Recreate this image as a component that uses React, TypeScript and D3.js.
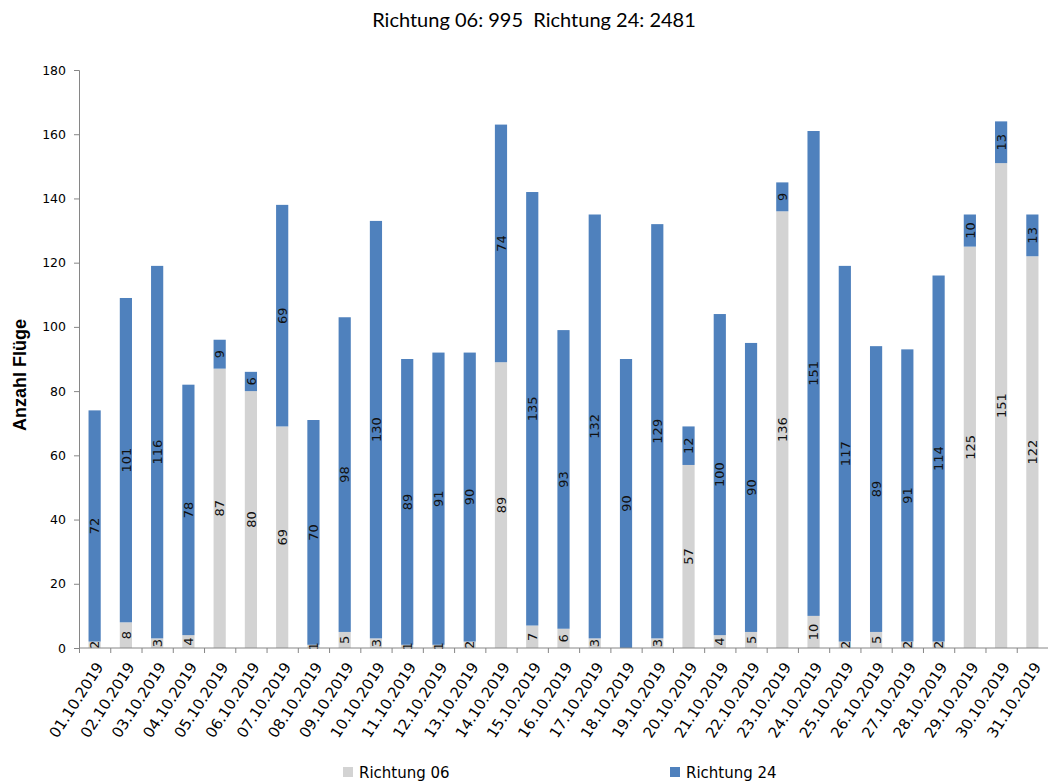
import { useEffect, useRef } from 'react'
import * as d3 from 'd3'

const dates = [
  '01.10.2019', '02.10.2019', '03.10.2019', '04.10.2019', '05.10.2019', '06.10.2019',
  '07.10.2019', '08.10.2019', '09.10.2019', '10.10.2019', '11.10.2019', '12.10.2019',
  '13.10.2019', '14.10.2019', '15.10.2019', '16.10.2019', '17.10.2019', '18.10.2019',
  '19.10.2019', '20.10.2019', '21.10.2019', '22.10.2019', '23.10.2019', '24.10.2019',
  '25.10.2019', '26.10.2019', '27.10.2019', '28.10.2019', '29.10.2019', '30.10.2019',
  '31.10.2019',
]
const richtung06 = [2, 8, 3, 4, 87, 80, 69, 1, 5, 3, 1, 1, 2, 89, 7, 6, 3, 0, 3, 57, 4, 5, 136, 10, 2, 5, 2, 2, 125, 151, 122]
const richtung24 = [72, 101, 116, 78, 9, 6, 69, 70, 98, 130, 89, 91, 90, 74, 135, 93, 132, 90, 129, 12, 100, 90, 9, 151, 117, 89, 91, 114, 10, 13, 13]
const yTicks = [0, 20, 40, 60, 80, 100, 120, 140, 160, 180]

const seriesNames = ['Richtung 06', 'Richtung 24']
const colors = ['#D3D3D3', '#4F81BD']

export default function App() {
  const svgRef = useRef<SVGSVGElement>(null)

  useEffect(() => {
    if (!svgRef.current) return
    const svg = d3.select(svgRef.current)
    svg.selectAll('*').remove()

    const width = 1048
    const height = 781
    const margin = { top: 70, right: 0, bottom: 133, left: 79 }
    const chartWidth = width - margin.left - margin.right
    const chartHeight = height - margin.top - margin.bottom

    svg.attr('width', width).attr('height', height)

    const total06 = d3.sum(richtung06)
    const total24 = d3.sum(richtung24)

    svg.append('text')
      .attr('x', 534)
      .attr('y', 27)
      .attr('text-anchor', 'middle')
      .style('font-family', 'Lato, sans-serif')
      .style('font-size', '20px')
      .style('fill', '#000')
      .text(`Richtung 06: ${total06}\u00a0\u00a0Richtung 24: ${total24}`)

    const g = svg.append('g').attr('transform', `translate(${margin.left},${margin.top})`)

    const x = d3.scaleBand().domain(dates).range([0, chartWidth]).paddingInner(0.61).paddingOuter(0.305)
    const y = d3.scaleLinear().domain([0, 180]).range([chartHeight, 0])

    const rows = dates.map((d, i) => ({ date: d, r06: richtung06[i], r24: richtung24[i] }))
    const stacked = d3.stack<any>().keys(['r06', 'r24'])(rows)

    stacked.forEach((layer, li) => {
      g.selectAll(`.bar${li}`)
        .data(layer)
        .enter()
        .append('rect')
        .attr('x', (d: any) => x(d.data.date) || 0)
        .attr('y', d => y(d[1]))
        .attr('width', x.bandwidth())
        .attr('height', d => y(d[0]) - y(d[1]))
        .attr('fill', colors[li])
    })

    // labels
    stacked.forEach(layer => {
      g.selectAll(null)
        .data(layer.filter(d => d[1] - d[0] > 0))
        .enter()
        .append('text')
        .attr('transform', (d: any) => {
          const cx = (x(d.data.date) || 0) + x.bandwidth() / 2
          const cy = (y(d[0]) + y(d[1])) / 2
          return `translate(${cx},${cy}) rotate(-90)`
        })
        .attr('text-anchor', 'middle')
        .attr('dy', '0.36em')
        .style('font-family', 'DejaVu Sans, sans-serif')
        .style('font-size', '13px')
        .style('fill', '#111')
        .text(d => String(d[1] - d[0]))
    })

    // y axis
    const yAxis = g.append('g').call(d3.axisLeft(y).tickValues(yTicks).tickSize(5).tickPadding(8))
    yAxis.select('.domain').attr('stroke', '#868686')
    yAxis.selectAll('.tick line').attr('stroke', '#868686')
    yAxis.selectAll('text')
      .style('font-family', 'DejaVu Sans, sans-serif')
      .style('font-size', '12.5px')
      .style('fill', '#000')

    // x axis
    const xAxis = g.append('g').attr('transform', `translate(0,${chartHeight})`)
    xAxis.append('line').attr('x1', 0).attr('x2', chartWidth).attr('stroke', '#868686')
    const step = x.step()
    xAxis.selectAll('.xt')
      .data(d3.range(dates.length + 1))
      .enter()
      .append('line')
      .attr('x1', i => i * step + 0.5)
      .attr('x2', i => i * step + 0.5)
      .attr('y1', 0)
      .attr('y2', 5)
      .attr('stroke', '#868686')
    xAxis.selectAll('.xl')
      .data(dates)
      .enter()
      .append('text')
      .attr('transform', d => `translate(${(x(d) || 0) + x.bandwidth() / 2 + 5},${16}) rotate(-57)`)
      .attr('text-anchor', 'end')
      .attr('dy', '0.35em')
      .style('font-family', 'DejaVu Sans, sans-serif')
      .style('font-size', '15px')
      .style('fill', '#000')
      .text(d => d)

    // y label
    svg.append('text')
      .attr('transform', `translate(26,375) rotate(-90)`)
      .attr('text-anchor', 'middle')
      .style('font-family', 'Liberation Sans, Arial, sans-serif')
      .style('font-size', '18px')
      .style('font-weight', 'bold')
      .style('fill', '#000')
      .text('Anzahl Flüge')

    // legend
    const legendX = [343, 670]
    seriesNames.forEach((name, i) => {
      svg.append('rect')
        .attr('x', legendX[i])
        .attr('y', 767)
        .attr('width', 10)
        .attr('height', 10)
        .attr('fill', colors[i])
      svg.append('text')
        .attr('x', legendX[i] + 16)
        .attr('y', 778)
        .style('font-family', 'DejaVu Sans, sans-serif')
        .style('font-size', '15px')
        .style('fill', '#000')
        .text(name)
    })
  }, [])

  return <svg ref={svgRef} style={{ position: 'absolute', left: 0, top: 0, display: 'block' }} />
}
